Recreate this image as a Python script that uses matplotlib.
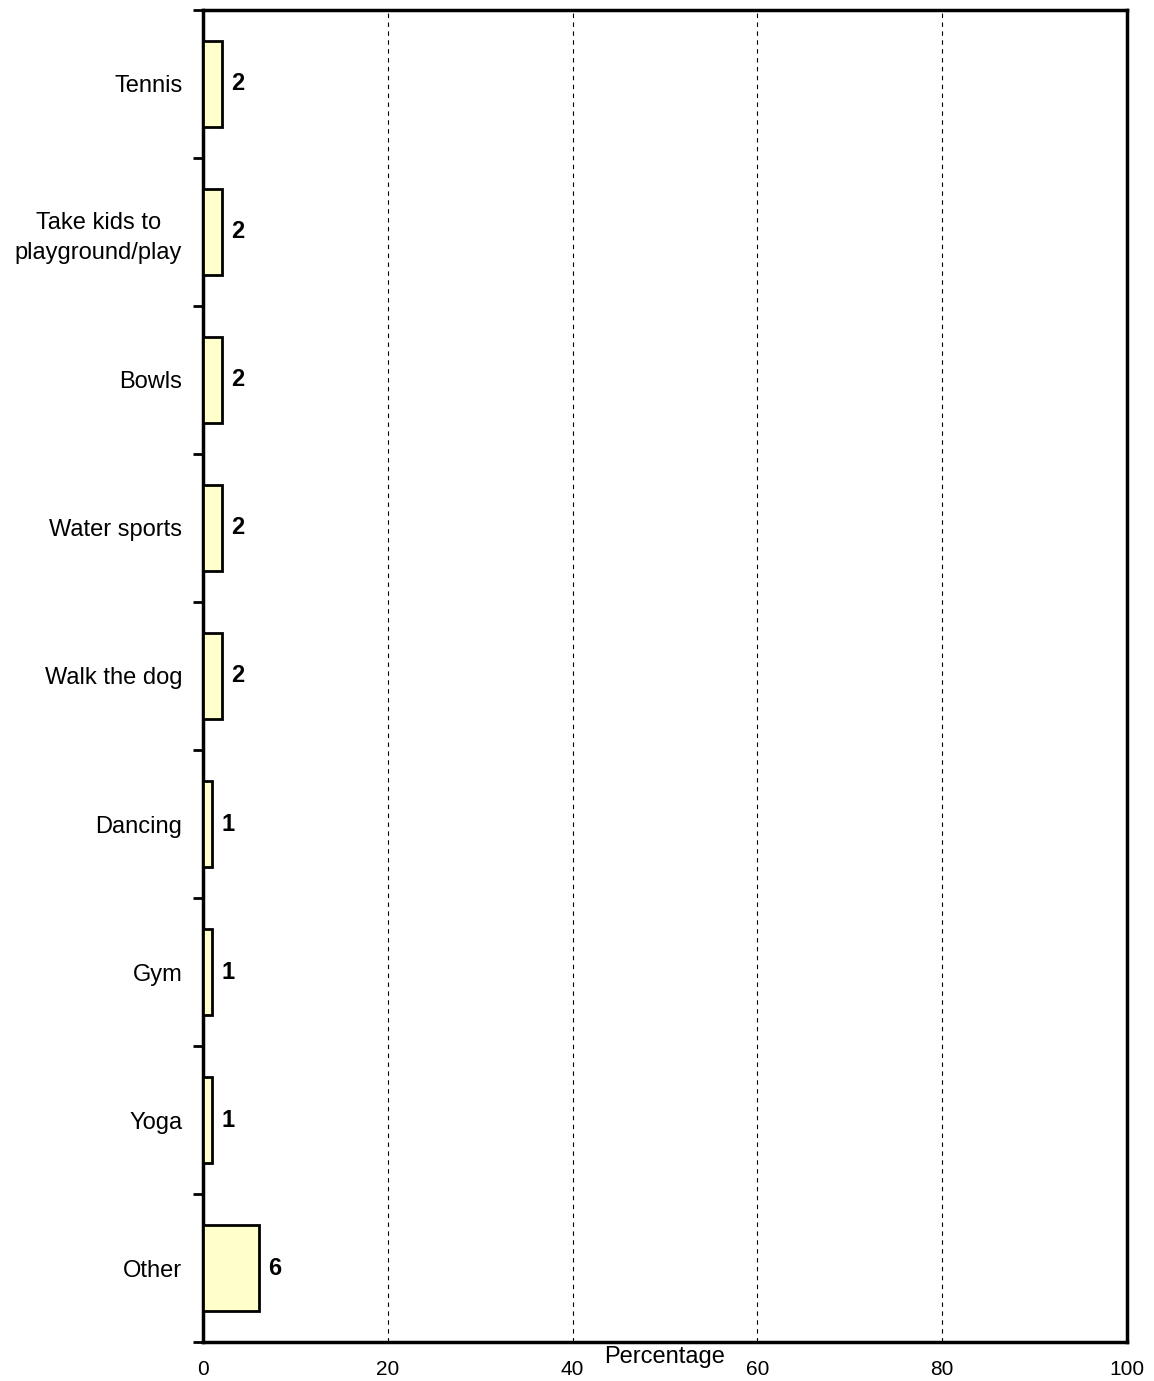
import numpy as np
import matplotlib.pyplot as plt

# activity shares (percent), listed top to bottom
activities = ["Tennis", "Take kids to\nplayground/play", "Bowls", "Water sports",
              "Walk the dog", "Dancing", "Gym", "Yoga", "Other"]
percentages = [2, 2, 2, 2, 2, 1, 1, 1, 6]
x_ticks = [0, 20, 40, 60, 80, 100]

plt.rcParams['font.family'] = ['Liberation Sans', 'DejaVu Sans']

fig = plt.figure(figsize=(11.54, 13.81), dpi=100)
ax = fig.add_axes([0.176, 0.0282, 0.8006, 0.9646])

y = np.arange(len(activities))
ax.barh(y, percentages, height=0.58, color='#FFFFCC', edgecolor='black', linewidth=2, zorder=3)
for yi, v in zip(y, percentages):
    ax.text(v + 1.0, yi, f"{v}", va='center', ha='left', fontsize=17, fontweight='bold', zorder=4)

ax.set_xlim(0, 100)
ax.set_ylim(len(activities) - 0.5, -0.5)

# dashed vertical grid
for xv in x_ticks[1:]:
    ax.axvline(xv, color='black', linestyle=(0, (4, 4)), linewidth=0.8, zorder=1)

ax.set_xticks(x_ticks)
ax.set_xticklabels([str(t) for t in x_ticks], fontsize=15)
ax.tick_params(axis='x', length=0, pad=13)

ax.set_yticks(y)
ax.set_yticklabels(activities, fontsize=17, ha='right', multialignment='center',
                   linespacing=1.45)
ax.set_yticks(np.arange(-0.5, len(activities)), minor=True)
ax.tick_params(axis='y', which='major', length=0, pad=15)
ax.tick_params(axis='y', which='minor', length=7, width=2, direction='out')

for s in ax.spines.values():
    s.set_linewidth(2.5)

fig.text(0.5763, 0.0255, "Percentage", ha='center', va='top', fontsize=17)

fig.savefig("out.png", dpi=100)
